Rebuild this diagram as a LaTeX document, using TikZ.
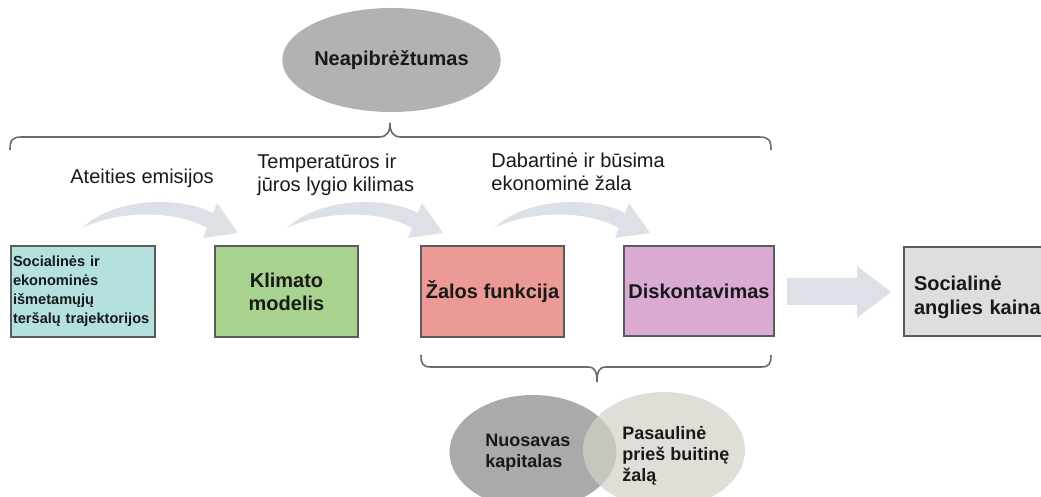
\documentclass[tikz,border=0pt]{standalone}
\usepackage{fontspec}
\setmainfont{Liberation Sans}
\usepackage{color}
\usetikzlibrary{shapes.geometric}

\definecolor{trajfill}{RGB}{180,224,222}
\definecolor{klimfill}{RGB}{168,211,142}
\definecolor{zalfill}{RGB}{236,154,150}
\definecolor{diskfill}{RGB}{218,170,210}
\definecolor{kainfill}{RGB}{222,222,222}
\definecolor{boxline}{RGB}{88,92,90}
\definecolor{flowgray}{RGB}{220,225,231}
\definecolor{ovalgray}{RGB}{178,178,178}
\definecolor{kapgray}{RGB}{169,170,171}
\definecolor{zalgray}{RGB}{211,209,199}
\definecolor{txt}{RGB}{25,25,25}

\begin{document}
\begin{tikzpicture}[x=0.5pt,y=-0.5pt,
	box/.style={draw=boxline,line width=1pt,minimum height=45.5pt,inner sep=2pt,text=txt,font=\bfseries},
	lbl/.style={anchor=west,align=left,inner sep=0pt,text=txt,font=\fontsize{10}{11.5}\selectfont},
	brace/.style={draw=boxline!90,line width=0.8pt}]
	\useasboundingbox (0,0) rectangle (1041,497);
	\fill[white] (0,0) rectangle (1041,497);
	\node[ellipse,fill=ovalgray,minimum width=83.5pt,minimum height=52pt,inner sep=0pt,text=txt,font=\bfseries] (neap) at (391.5,60) {Neapibrėžtumas};
	\draw[brace] (10,150) .. controls (10,140) and (12,137) .. (22,137) -- (379,137) .. controls (387,137) and (390,132) .. (390,123) .. controls (390,132) and (393,137) .. (401,137) -- (759,137) .. controls (769,137) and (771,140) .. (771,150);
	\node[lbl] (emis) at (70,178) {Ateities emisijos};
	\node[lbl] (temp) at (257,174.5) {Temperatūros ir\\jūros lygio kilimas};
	\node[lbl] (dab) at (491,171.5) {Dabartinė ir būsima\\ekonominė žala};
	\foreach \dx in {0,205,412}
	{
		\fill[flowgray,shift={(\dx,0)}] (82,228) .. controls (115,197) and (180,196) .. (213,213) -- (217,203) -- (238,233) -- (203,238) -- (207,228) .. controls (175,210) and (120,210) .. (82,228) -- cycle;
	}
	\node[box,fill=trajfill,anchor=west,minimum width=72pt,text width=70pt,inner xsep=1pt,align=left,font=\bfseries\fontsize{7.3}{9.5}\selectfont] (traj) at (10,291.5) {Socialinės ir\\ekonominės\\išmetamųjų\\teršalų trajektorijos};
	\node[box,fill=klimfill,minimum width=71.5pt,align=center,font=\bfseries\fontsize{10}{11.5}\selectfont] (klim) at (286.5,291.5) {Klimato\\modelis};
	\node[box,fill=zalfill,minimum width=71.5pt] (zal) at (492.5,291.5) {Žalos funkcija};
	\node[box,fill=diskfill,minimum width=72pt,minimum height=45pt] (disk) at (699,291) {Diskontavimas};
	\node[box,fill=kainfill,anchor=west,minimum height=44.5pt,text width=72pt,inner xsep=5pt,align=left,text depth=8pt,font=\bfseries\fontsize{10}{12}\selectfont] (kain) at (903,291.5) {Socialinė\\anglies kaina};
	\fill[flowgray] (787,278) -- (857,278) -- (857,266) -- (891,292) -- (857,318) -- (857,305) -- (787,305) -- cycle;
	\draw[brace] (421,355) .. controls (421,364) and (423,367) .. (431,367) -- (588,367) .. controls (595,367) and (597,372) .. (597,382) .. controls (597,372) and (599,367) .. (606,367) -- (761,367) .. controls (769,367) and (771,364) .. (771,355);
	\fill[kapgray] (533,452) ellipse (83.5 and 57);
	\fill[zalgray,fill opacity=0.7] (664,450) ellipse (81 and 58);
	\node[lbl,font=\bfseries\fontsize{9}{10.5}\selectfont] (kap) at (485,452.5) {Nuosavas\\kapitalas};
	\node[lbl,font=\bfseries\fontsize{9}{10.5}\selectfont] (pas) at (622,456) {Pasaulinė\\prieš buitinę\\žalą};
\end{tikzpicture}
\end{document}
